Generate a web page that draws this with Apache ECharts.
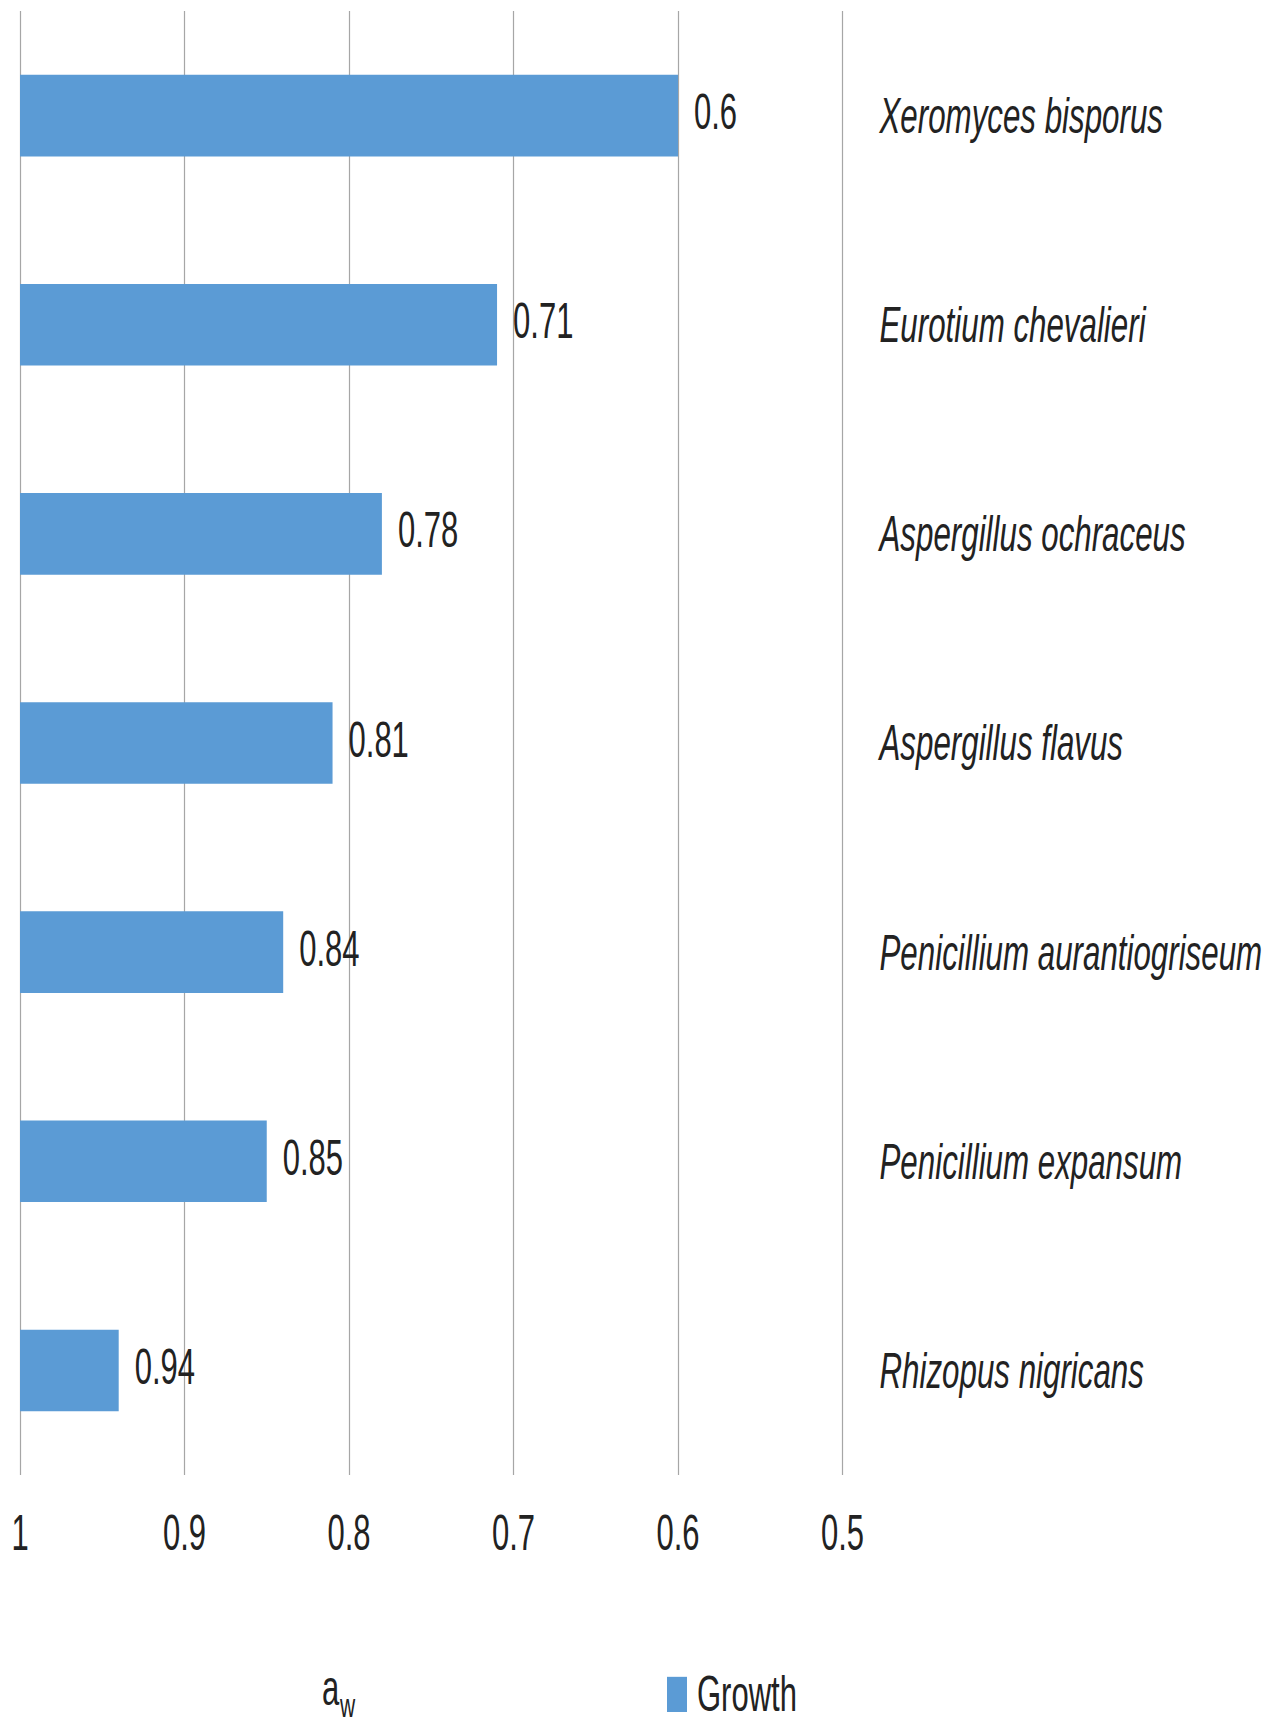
<!DOCTYPE html>
<html>
<head>
<meta charset="utf-8">
<script src="https://cdn.jsdelivr.net/npm/echarts@6/dist/echarts.min.js"></script>
<style>
html, body { margin: 0; padding: 0; background: #ffffff; overflow: hidden; }
#wrap { width: 1275px; height: 1724px; overflow: hidden; }
#chart { width: 1275px; height: 1078px; transform-origin: 0 0; transform: scaleY(1.59926); }
</style>
</head>
<body>
<div id="wrap"><div id="chart"></div></div>
<script>
// Data
const categories = [
  'Xeromyces bisporus',
  'Eurotium chevalieri',
  'Aspergillus ochraceus',
  'Aspergillus flavus',
  'Penicillium aurantiogriseum',
  'Penicillium expansum',
  'Rhizopus nigricans'
];
const growthValues = [0.6, 0.71, 0.78, 0.81, 0.84, 0.85, 0.94];
const seriesName = 'Growth';
const axisMin = 0.5;
const axisMax = 1;
const axisStep = 0.1;

const FONT = '"Liberation Sans", Arial, Helvetica, sans-serif';
const TEXT = '#222222';
const BAR = '#5B9BD5';

const chart = echarts.init(document.getElementById('chart'), null, { renderer: 'svg' });

const option = {
  animation: false,
  backgroundColor: '#ffffff',
  grid: { left: 20, right: 432.5, top: 6.9, bottom: 155.7, containLabel: false },
  xAxis: {
    type: 'value',
    min: axisMin,
    max: axisMax,
    interval: axisStep,
    inverse: true,
    axisLine: { show: false },
    axisTick: { show: false },
    splitLine: { show: true, lineStyle: { color: '#a6a6a6', width: 1.2 } },
    axisLabel: {
      margin: 21,
      fontSize: 31,
      fontFamily: FONT,
      color: TEXT,
      formatter: v => String(+v.toFixed(1))
    }
  },
  yAxis: {
    type: 'category',
    data: categories,
    inverse: true,
    position: 'right',
    axisLine: { show: false },
    axisTick: { show: false },
    splitLine: { show: false },
    axisLabel: {
      margin: 37,
      align: 'left',
      fontSize: 31.3,
      fontStyle: 'italic',
      fontFamily: FONT,
      color: TEXT
    }
  },
  legend: {
    data: [{ name: seriesName, icon: 'rect' }],
    left: 667,
    top: 1044,
    itemWidth: 20,
    itemHeight: 22,
    padding: 0,
    textStyle: { fontSize: 31, fontFamily: FONT, color: TEXT, padding: [0, 0, 0, 5] }
  },
  graphic: [
    { type: 'text', left: 322, top: 1040, style: { text: 'a', font: '31px ' + FONT, fill: TEXT } },
    { type: 'text', left: 340, top: 1056, style: { text: 'w', font: '21px ' + FONT, fill: TEXT } }
  ],
  series: [{
    type: 'custom',
    name: seriesName,
    itemStyle: { color: BAR },
    encode: { x: 0, y: 1 },
    data: growthValues.map((v, i) => [v, i]),
    renderItem: function (params, api) {
      const val = api.value(0);
      const idx = api.value(1);
      const start = api.coord([axisMax, idx]);
      const end = api.coord([val, idx]);
      const bh = api.size([0, 1])[1] * 0.39;
      return {
        type: 'group',
        children: [
          {
            type: 'rect',
            shape: { x: start[0], y: start[1] - bh / 2, width: end[0] - start[0], height: bh },
            style: { fill: BAR }
          },
          {
            type: 'text',
            style: {
              text: String(val),
              x: end[0] + 16,
              y: end[1] - 2,
              verticalAlign: 'middle',
              align: 'left',
              font: '31px ' + FONT,
              fill: TEXT
            }
          }
        ]
      };
    }
  }]
};
chart.setOption(option);
</script>
</body>
</html>
